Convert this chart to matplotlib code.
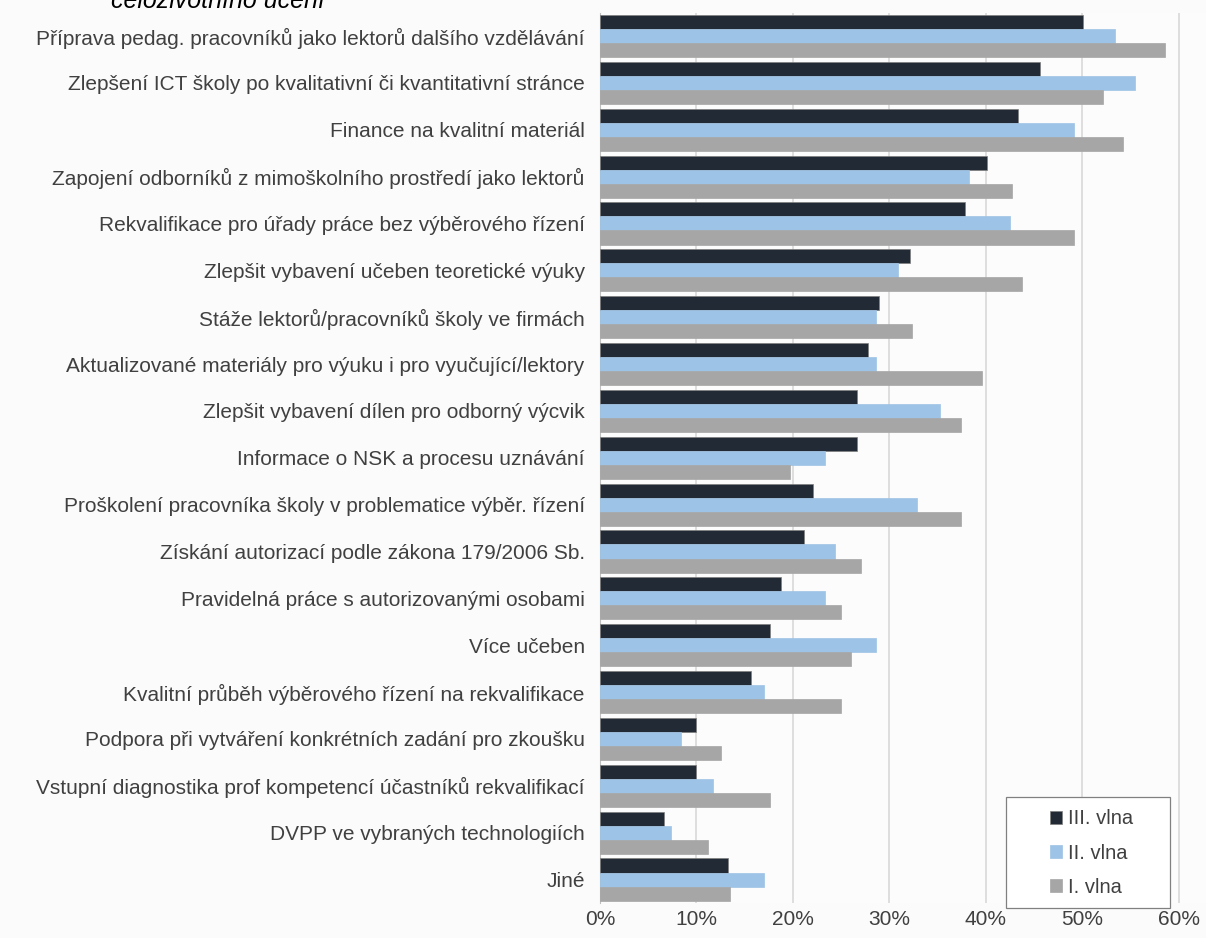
import numpy as np
import matplotlib
matplotlib.use('Agg')
import matplotlib.pyplot as plt
from matplotlib.ticker import FuncFormatter
from matplotlib.patches import Rectangle

plt.rcParams['font.family'] = ['Liberation Sans', 'DejaVu Sans']

categories = [
    'Příprava pedag. pracovníků jako lektorů dalšího vzdělávání',
    'Zlepšení ICT školy po kvalitativní či kvantitativní stránce',
    'Finance na kvalitní materiál',
    'Zapojení odborníků z mimoškolního prostředí jako lektorů',
    'Rekvalifikace pro úřady práce bez výběrového řízení',
    'Zlepšit vybavení učeben teoretické výuky',
    'Stáže lektorů/pracovníků školy ve firmách',
    'Aktualizované materiály pro výuku i pro vyučující/lektory',
    'Zlepšit vybavení dílen pro odborný výcvik',
    'Informace o NSK a procesu uznávání',
    'Proškolení pracovníka školy v problematice výběr. řízení',
    'Získání autorizací podle zákona 179/2006 Sb.',
    'Pravidelná práce s autorizovanými osobami',
    'Více učeben',
    'Kvalitní průběh výběrového řízení na rekvalifikace',
    'Podpora při vytváření konkrétních zadání pro zkoušku',
    'Vstupní diagnostika prof kompetencí účastníků rekvalifikací',
    'DVPP ve vybraných technologiích',
    'Jiné',
]

# values in %
vlna_3 = [50.1, 45.6, 43.3, 40.1, 37.8, 32.1, 28.9, 27.8, 26.6, 26.6,
          22.1, 21.1, 18.8, 17.6, 15.6, 9.9, 9.9, 6.6, 13.3]
vlna_2 = [53.4, 55.4, 49.1, 38.2, 42.5, 30.9, 28.6, 28.6, 35.2, 23.3,
          32.9, 24.4, 23.3, 28.6, 17.0, 8.4, 11.7, 7.4, 17.0]
vlna_1 = [58.5, 52.1, 54.2, 42.7, 49.1, 43.7, 32.3, 39.6, 37.4, 19.7,
          37.4, 27.0, 25.0, 26.0, 25.0, 12.5, 17.6, 11.2, 13.5]

series_names = ['III. vlna', 'II. vlna', 'I. vlna']
colors = ['#222a35', '#9dc3e6', '#a6a6a6']

fig = plt.figure(figsize=(12.06, 9.38), dpi=100, facecolor='#fbfbfb')
ax = fig.add_axes([0.4975, 0.0373, 0.5025, 0.9493])
ax.set_facecolor('#fcfcfc')

y = np.arange(len(categories))
h = 0.3
for i, (vals, name, col) in enumerate(zip([vlna_3, vlna_2, vlna_1], series_names, colors)):
    ax.barh(y + (i - 1) * h, vals, height=h, color=col, label=name,
            edgecolor='#7f7f7f' if i == 0 else col, linewidth=0.5, zorder=3)

ax.set_ylim(len(categories) - 0.5, -0.5)
ax.set_xlim(0, 62.8)
ax.set_xticks(np.arange(0, 61, 10))
ax.xaxis.set_major_formatter(FuncFormatter(lambda v, p: f'{v:.0f}%'))
ax.set_yticks(y)
ax.set_yticklabels(categories)

ax.grid(axis='x', color='#d9d9d9', linewidth=1.2, zorder=0)
for s in ['top', 'right', 'bottom']:
    ax.spines[s].set_visible(False)
ax.spines['left'].set_color('#bfbfbf')
ax.tick_params(axis='y', length=0, pad=11, labelsize=15, labelcolor='#404040')
ax.tick_params(axis='x', length=0, pad=5, labelsize=15, labelcolor='#404040')

# legend box (frame drawn separately to get Excel-like wide padding)
box = Rectangle((1006 / 1206, 1 - 908 / 938), 164 / 1206, 111 / 938,
                transform=fig.transFigure, facecolor='white',
                edgecolor='#808080', linewidth=0.9, zorder=10)
fig.patches.append(box)
leg = fig.legend(*ax.get_legend_handles_labels(), loc='center left',
                 bbox_to_anchor=(1040 / 1206, 1 - 853 / 938), fontsize=14.5,
                 handlelength=0.6, handleheight=0.6, handletextpad=0.3,
                 labelspacing=0.75, borderpad=0.0, frameon=False)
leg.set_zorder(11)
for t in leg.get_texts():
    t.set_color('#404040')

# title line cut off at the top of the picture
fig.text(0.092, 1 - 8 / 938, 'celoživotního učení', fontsize=18, style='italic',
         color='black', va='baseline', ha='left')

fig.savefig('out.png', dpi=100, facecolor=fig.get_facecolor())
